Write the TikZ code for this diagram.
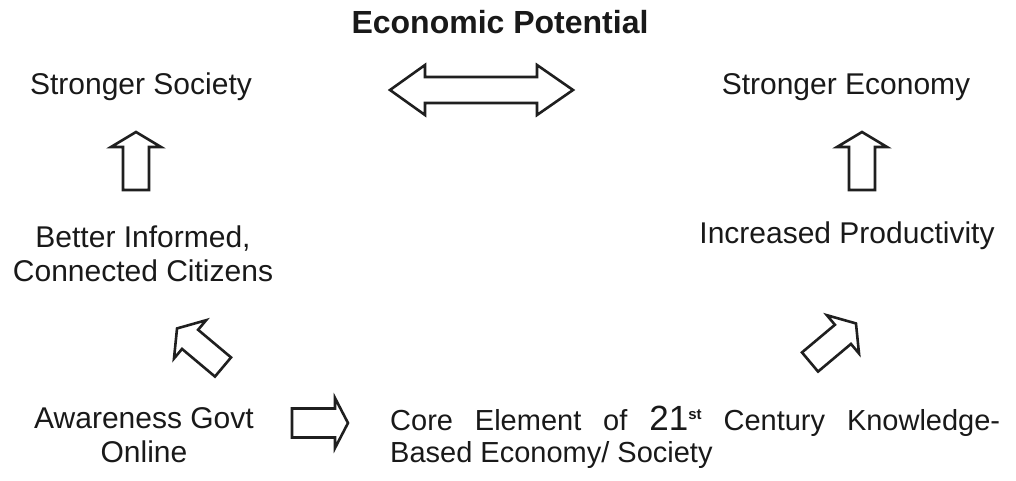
\documentclass[tikz,border=0pt]{standalone}
\usepackage{fontspec}
\setmainfont{Liberation Sans}
\tikzset{
  lbl/.style={font=\fontsize{30}{34}\selectfont, inner sep=0pt, text=black!90},
  barrow/.style={draw=black!88, line width=2.6pt, line join=miter, fill=white},
}
% name, x, y, angle, length, shaft half-width, head half-width, head length
\newcommand\blockarr[8]{%
  \begin{scope}[shift={(#2,#3)}, rotate=#4]
    \draw[barrow] (0,-#6) -- ({#5-#8},-#6) -- ({#5-#8},-#7) -- (#5,0)
      -- ({#5-#8},#7) -- ({#5-#8},#6) -- (0,#6) -- cycle;
    \coordinate (#1) at ({#5/2},0);
  \end{scope}}
\begin{document}
\begin{tikzpicture}[x=1pt,y=-1pt]
\useasboundingbox (0,0) rectangle (1016,481);

% title
\node[lbl, anchor=base, font=\fontsize{32}{34}\selectfont\bfseries] (title) at (500,34) {Economic Potential};

% left column
\node[lbl, anchor=base] (society) at (141,95) {Stronger Society};
\node[lbl, anchor=base] (informed) at (143,247)
  {\begin{tabular}[t]{@{}c@{}}Better Informed,\\Connected Citizens\end{tabular}};
\node[lbl, anchor=base] (aware) at (144,428)
  {\begin{tabular}[t]{@{}c@{}}Awareness Govt\\Online\end{tabular}};

% right column
\node[lbl, anchor=base] (economy) at (846,95) {Stronger Economy};
\node[lbl, anchor=base] (product) at (847,243) {Increased Productivity};
\node[lbl, anchor=base west, font=\fontsize{29}{32}\selectfont] (core) at (390,430)
  {\begin{tabular}[t]{@{}l@{}}\makebox[610pt][s]{Core Element of {\fontsize{35}{32}\selectfont 21}\raisebox{11pt}{\fontsize{15}{15}\selectfont\bfseries st} Century Knowledge-}\\Based Economy/ Society\end{tabular}};

% block arrows
\blockarr{upL}{136}{190}{90}{58}{13}{25}{15}
\blockarr{upR}{862}{190}{90}{58}{13}{25}{15}
\blockarr{diagL}{223}{367}{140}{60}{12.5}{25}{17}
\blockarr{diagR}{810}{362}{40}{60}{12.5}{25}{17}
\blockarr{right}{292}{423}{0}{56}{14.5}{25}{13}

% double arrow
\draw[barrow] (390,90) -- (425,65) -- (425,77) -- (537,77) -- (537,65) -- (573,90)
  -- (537,115) -- (537,103) -- (425,103) -- (425,115) -- cycle;
\coordinate (dbl) at (481,90);
\end{tikzpicture}
\end{document}
